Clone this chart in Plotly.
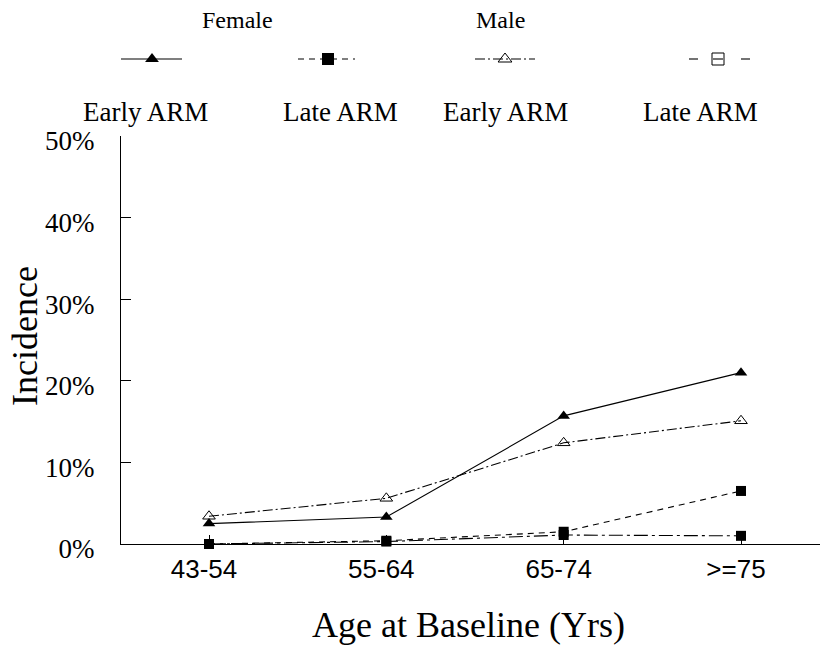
import plotly.graph_objects as go

# ---------------- data ----------------
age_groups = ["43-54", "55-64", "65-74", ">=75"]
female_early = [2.5, 3.3, 15.7, 21.0]
female_late = [0.0, 0.4, 1.5, 6.5]
male_early = [3.4, 5.6, 12.4, 15.1]
male_late = [0.0, 0.3, 1.1, 1.0]

y_ticks = [0, 10, 20, 30, 40, 50]
legend_groups = ["Female", "Male"]
legend_labels = ["Early ARM", "Late ARM", "Early ARM", "Late ARM"]

# ---------------- layout constants (pixels) ----------------
W, H = 820, 645
PL, PR, PT, PB = 121, 820, 136, 544   # plot area edges
SERIF = "Liberation Serif, Times New Roman, serif"
SANS = "Liberation Sans, Arial, sans-serif"
LW = 1.1

fig = go.Figure()

series = [
    (female_early, dict(dash="solid"), dict(symbol="triangle-up", size=11, color="black")),
    (female_late, dict(dash="6px,5px"), dict(symbol="square", size=10, color="black")),
    (male_early, dict(dash="10px,3px,2px,3px"), dict(symbol="triangle-up-open", size=11, color="black",
                                                      line=dict(color="black", width=1))),
    (male_late, dict(dash="14px,4px,3px,4px"), dict(symbol="square", size=10, color="black")),
]
for vals, dash, mk in series:
    fig.add_trace(go.Scatter(
        x=age_groups, y=vals, mode="lines+markers",
        line=dict(color="black", width=LW, **dash),
        marker=mk, cliponaxis=False, showlegend=False, hoverinfo="skip",
    ))

# ---------------- custom legend (on a pixel-space helper axis) ----------------
leg_y = 59
leg_samples = [
    ([121, 182], 152, "solid", dict(symbol="triangle-up", size=12, color="black")),
    ([298, 355], 328, "6px,5px", dict(symbol="square", size=12, color="black")),
    ([475, 535], 505, "10px,3px,2px,3px", dict(symbol="triangle-up-open", size=12, color="black",
                                                 line=dict(color="black", width=1))),
]
for xs, xm, dsh, mk in leg_samples:
    fig.add_trace(go.Scatter(x=xs, y=[leg_y, leg_y], mode="lines", xaxis="x2", yaxis="y2",
                             line=dict(color="black", width=LW, dash=dsh),
                             showlegend=False, hoverinfo="skip"))
    fig.add_trace(go.Scatter(x=[xm], y=[leg_y], mode="markers", xaxis="x2", yaxis="y2",
                             marker=mk, showlegend=False, hoverinfo="skip"))
# fourth sample: "– ⊟ –"
fig.add_trace(go.Scatter(x=[689, 698, None, 713, 723, None, 741, 750],
                         y=[leg_y, leg_y, None, leg_y, leg_y, None, leg_y, leg_y],
                         mode="lines", xaxis="x2", yaxis="y2",
                         line=dict(color="black", width=LW), connectgaps=False,
                         showlegend=False, hoverinfo="skip"))
fig.add_trace(go.Scatter(x=[718], y=[leg_y], mode="markers", xaxis="x2", yaxis="y2",
                         marker=dict(symbol="square-open", size=12, color="black",
                                     line=dict(color="black", width=1)),
                         showlegend=False, hoverinfo="skip"))

annotations = []
for txt, xc in zip(legend_groups, [237, 500]):
    annotations.append(dict(text=txt, x=xc, y=20, xref="x2", yref="y2", showarrow=False,
                            font=dict(family=SERIF, size=24, color="black"),
                            xanchor="center", yanchor="middle"))
for txt, xc in zip(legend_labels, [145, 340, 505, 700]):
    annotations.append(dict(text=txt, x=xc, y=112, xref="x2", yref="y2", showarrow=False,
                            font=dict(family=SERIF, size=27, color="black"),
                            xanchor="center", yanchor="middle"))
# axis titles
annotations.append(dict(text="Age at Baseline (Yrs)", x=468, y=625, xref="x2", yref="y2",
                        showarrow=False, font=dict(family=SERIF, size=36, color="black"),
                        xanchor="center", yanchor="middle"))
annotations.append(dict(text="Incidence", x=25, y=336, xref="x2", yref="y2", textangle=-90,
                        showarrow=False, font=dict(family=SERIF, size=36, color="black"),
                        xanchor="center", yanchor="middle"))

step = (741 - 209) / 3.0
x_lo = -(209 - PL) / step
x_hi = 3 + (PR - 741) / step

fig.update_layout(
    width=W, height=H,
    margin=dict(l=0, r=0, t=0, b=0),
    paper_bgcolor="white", plot_bgcolor="rgba(0,0,0,0)",
    showlegend=False,
    annotations=annotations,
    xaxis=dict(
        domain=[PL / W, PR / W], range=[x_lo, x_hi], type="category",
        showline=True, linecolor="black", linewidth=1, showgrid=False, zeroline=False,
        ticks="inside", ticklen=9, tickcolor="black", tickwidth=1,
        tickfont=dict(family=SANS, size=26, color="black"),
        ticklabelstandoff=2, ticklabelshift=-5, automargin=False, fixedrange=True,
    ),
    yaxis=dict(
        domain=[(H - PB) / H, (H - PT) / H], range=[0, 50],
        tickvals=y_ticks, ticktext=[f"{v}%" for v in y_ticks],
        showline=True, linecolor="black", linewidth=1, showgrid=False, zeroline=False,
        ticks="inside", ticklen=10, tickcolor="black", tickwidth=1,
        tickfont=dict(family=SERIF, size=27, color="black"),
        ticklabelstandoff=20, ticklabelshift=5, automargin=False, fixedrange=True,
    ),
    xaxis2=dict(domain=[0, 1], range=[0, W], visible=False, anchor="y2", fixedrange=True),
    yaxis2=dict(domain=[0, 1], range=[H, 0], visible=False, anchor="x2", fixedrange=True),
)

fig.write_html("out.html", config={"displayModeBar": False},
               post_script="document.body.style.margin='0px';")
